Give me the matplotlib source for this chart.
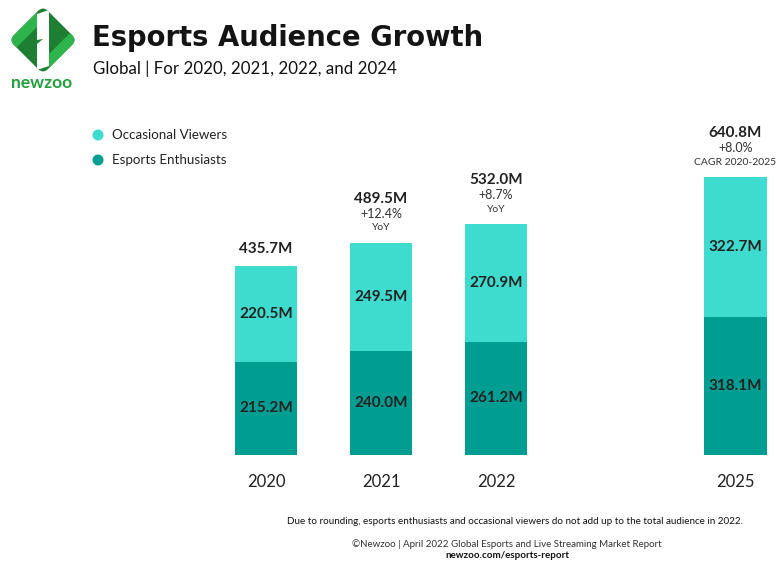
import matplotlib
matplotlib.use("Agg")
import matplotlib.pyplot as plt
from matplotlib.patches import Polygon, Circle, FancyBboxPatch
from matplotlib.transforms import Affine2D

# ---- data ----
years = ["2020", "2021", "2022", "2025"]
enthusiasts = [215.2, 240.0, 261.2, 318.1]
occasional = [220.5, 249.5, 270.9, 322.7]
totals = [435.7, 489.5, 532.0, 640.8]
growth_notes = [None, ("+12.4%", "YoY"), ("+8.7%", "YoY"), ("+8.0%", "CAGR 2020-2025")]

# ---- styling ----
FONT = "Lato"
C_OCC = "#3EDCCF"
C_ENT = "#009E92"
C_TEXT = "#222222"

W, H = 778, 561
fig = plt.figure(figsize=(W / 100, H / 100), dpi=100)
fig.patch.set_facecolor("white")

def px_axes(x0, y0, x1, y1):
    """Axes positioned with pixel edges measured from the top-left corner."""
    return fig.add_axes([x0 / W, 1 - y1 / H, (x1 - x0) / W, (y1 - y0) / H])

# ---- bar chart ----
ax = px_axes(200, 100, 778, 455)
positions = [0, 1, 2, 4.08]
ax.set_xlim(-0.574, 4.452)
ax.set_ylim(0, 819)
bw = 0.545
ax.bar(positions, enthusiasts, width=bw, color=C_ENT, linewidth=0)
ax.bar(positions, occasional, width=bw, bottom=enthusiasts, color=C_OCC, linewidth=0)
for s in ax.spines.values():
    s.set_visible(False)
ax.set_yticks([])
ax.set_xticks(positions)
ax.set_xticklabels(years, fontsize=12, color=C_TEXT, family=FONT)
ax.tick_params(axis="x", length=0, pad=14)

for x, e, o, t, note in zip(positions, enthusiasts, occasional, totals, growth_notes):
    ax.text(x, e / 2, f"{e:.1f}M", ha="center", va="center", fontsize=11,
            color=C_TEXT, family=FONT, fontweight="bold")
    ax.text(x, e + o / 2, f"{o:.1f}M", ha="center", va="center", fontsize=11,
            color=C_TEXT, family=FONT, fontweight="bold")
    top = e + o
    if note is None:
        ax.annotate(f"{t:.1f}M", (x, top), xytext=(0, 17 * 0.72), textcoords="offset points",
                    ha="center", va="center", fontsize=11, color=C_TEXT, family=FONT,
                    fontweight="bold")
    else:
        ax.annotate(note[1], (x, top), xytext=(0, 15 * 0.72), textcoords="offset points",
                    ha="center", va="center", fontsize=7.5, color="#333333", family=FONT)
        ax.annotate(note[0], (x, top), xytext=(0, 29 * 0.72), textcoords="offset points",
                    ha="center", va="center", fontsize=9, color="#333333", family=FONT)
        ax.annotate(f"{t:.1f}M", (x, top), xytext=(0, 44 * 0.72), textcoords="offset points",
                    ha="center", va="center", fontsize=11, color=C_TEXT, family=FONT,
                    fontweight="bold")

# ---- overlay for header, legend, footer and logo ----
ov = px_axes(0, 0, W, H)
ov.set_xlim(0, W)
ov.set_ylim(H, 0)
ov.axis("off")
ov.patch.set_alpha(0)

ov.text(92, 38, "Esports Audience Growth", fontsize=19.8, fontweight="bold",
        color="#141414", family="DejaVu Sans", va="center", ha="left")
ov.text(93, 69, "Global | For 2020, 2021, 2022, and 2024", fontsize=12.2,
        color="#111111", family=FONT, va="center", ha="left")

# legend
for y, c, lab in [(135, C_OCC, "Occasional Viewers"), (160, C_ENT, "Esports Enthusiasts")]:
    ov.add_patch(Circle((98, y), 5.5, color=c, lw=0))
    ov.text(112, y, lab, fontsize=9.6, color="#222222", family=FONT, va="center", ha="left")

# footer
ov.text(743, 522, "Due to rounding, esports enthusiasts and occasional viewers do not add up "
        "to the total audience in 2022.", fontsize=7.15, color="#111111", family=FONT,
        ha="right", va="center")
ov.text(507, 544, "\u00a9Newzoo | April 2022 Global Esports and Live Streaming Market Report",
        fontsize=7, color="#333333", family=FONT, ha="center", va="center")
ov.text(507, 555, "newzoo.com/esports-report", fontsize=7, color="#111111",
        family=FONT, ha="center", va="center", fontweight="bold")

# logo: rounded diamond with stripes
cx, cy, r = 43, 40, 34
dark = "#1E7F32"
light = "#2DB44A"
rot = Affine2D().rotate_deg_around(cx, cy, 45) + ov.transData
side = r * 2 / 2 ** 0.5
box = FancyBboxPatch((cx - side / 2, cy - side / 2), side, side,
                     boxstyle="round,pad=0,rounding_size=7", fc=dark, ec="none",
                     transform=rot)
ov.add_patch(box)
shapes = [
    # left light band along the "/" direction
    ([(37, 12), (37, 27), (11, 53), (-5, 53)], light),
    # right light band
    ([(49, 54), (49, 69), (80, 38), (80, 23)], light),
    # upper white band
    ([(37, 14), (49, 10), (49, 38), (37, 40)], "white"),
    # lower white band
    ([(37, 44), (49, 34), (49, 66), (37, 70)], "white"),
]
for pts, col in shapes:
    p = Polygon(pts, closed=True, fc=col, ec="none")
    ov.add_patch(p)
    p.set_clip_path(box)
ov.text(42, 83, "newzoo", fontsize=12.5, fontweight="bold", color="#22A03C",
        family=FONT, ha="center", va="center")

fig.savefig("out.png", dpi=100)
